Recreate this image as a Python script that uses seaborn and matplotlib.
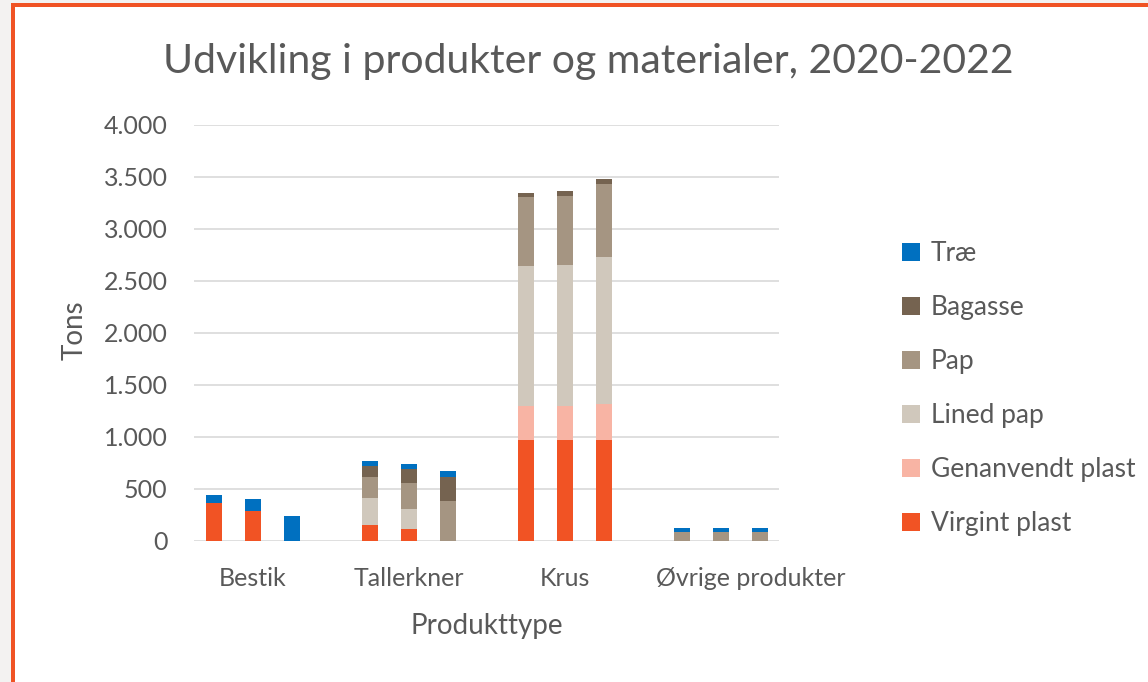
import numpy as np
import pandas as pd
import matplotlib
matplotlib.use("Agg")
import matplotlib.pyplot as plt
from matplotlib.patches import Patch, Rectangle
from matplotlib.ticker import FuncFormatter
from matplotlib.transforms import ScaledTranslation
import seaborn as sns

# data (tons)
produkter = ["Bestik", "Tallerkner", "Krus", "Øvrige produkter"]
aar = ["2020", "2021", "2022"]
materialer = ["Virgint plast", "Genanvendt plast", "Lined pap", "Pap", "Bagasse", "Træ"]
farver = ["#f15324", "#f8b4a4", "#d0c8bc", "#a59582", "#756350", "#0070c0"]

# one list per material, order: produkt x aar
virgint_plast = [368, 285, 0, 155, 113, 0, 968, 968, 968, 0, 0, 0]
genanvendt_plast = [0, 0, 0, 0, 0, 0, 331, 331, 351, 0, 0, 0]
lined_pap = [0, 0, 0, 254, 193, 0, 1341, 1357, 1410, 0, 0, 0]
pap = [0, 0, 0, 210, 252, 380, 664, 660, 701, 90, 90, 90]
bagasse = [0, 0, 0, 103, 132, 239, 41, 48, 48, 0, 0, 0]
trae = [77, 116, 237, 45, 48, 58, 0, 0, 0, 35, 35, 35]

værdier = [virgint_plast, genanvendt_plast, lined_pap, pap, bagasse, trae]

rows = []
for m, vals in zip(materialer, værdier):
    i = 0
    for p in produkter:
        for a in aar:
            rows.append({"produkt": p, "aar": a, "materiale": m, "tons": vals[i]})
            i += 1
df = pd.DataFrame(rows)
df["materiale"] = pd.Categorical(df["materiale"], materialer, ordered=True)
df = df.sort_values(["produkt", "aar", "materiale"])
df["cum"] = df.groupby(["produkt", "aar"], observed=True)["tons"].cumsum()

plt.rcParams["font.family"] = ["Lato", "DejaVu Sans"]
grey = "#595959"

fig = plt.figure(figsize=(11.48, 6.82), dpi=100)
fig.patch.set_facecolor("white")
# frame of the screenshot
fig.patches.append(Rectangle((0, 0), 11 / 1148, 1, transform=fig.transFigure,
                             facecolor="#f3f2f1", edgecolor="none", zorder=0))
fig.patches.append(Rectangle((0, 1 - 3 / 682), 1, 3 / 682, transform=fig.transFigure,
                             facecolor="#f3f2f1", edgecolor="none", zorder=0))
fig.patches.append(Rectangle((11 / 1148, 0), 4 / 1148, 1 - 3 / 682, transform=fig.transFigure,
                             facecolor="#f05324", edgecolor="none", zorder=1))
fig.patches.append(Rectangle((11 / 1148, 1 - 7 / 682), 1, 4 / 682, transform=fig.transFigure,
                             facecolor="#f05324", edgecolor="none", zorder=1))

ax = fig.add_axes([194 / 1148, 1 - 541 / 682, 585 / 1148, 416 / 682])

# stacked bars: draw cumulative totals from the top layer down
for m, c in reversed(list(zip(materialer, farver))):
    sub = df[df["materiale"] == m]
    sns.barplot(data=sub, x="produkt", y="cum", hue="aar", order=produkter,
                hue_order=aar, palette=[c] * 3, saturation=1, width=0.75, gap=0.6,
                errorbar=None, legend=False, linewidth=0, ax=ax, zorder=3)

ax.set_ylim(0, 4000)
ax.set_yticks(np.arange(0, 4001, 500))
ax.yaxis.set_major_formatter(FuncFormatter(lambda v, _: f"{int(v):,}".replace(",", ".")))
ax.set_xlim(-0.378, 3.372)
ax.grid(axis="y", color="#d9d9d9", linewidth=1.2, zorder=0)
ax.grid(axis="x", visible=False)
ax.set_axisbelow(True)
for s in ax.spines.values():
    s.set_visible(False)
ax.tick_params(axis="both", length=0, labelsize=18, labelcolor=grey)
ax.tick_params(axis="x", pad=19)
ax.tick_params(axis="y", pad=19)

# the long last label sits a bit to the right in the original
lbl = ax.get_xticklabels()[-1]
lbl.set_transform(lbl.get_transform() + ScaledTranslation(0.3, 0, fig.dpi_scale_trans))

ax.set_xlabel("Produkttype", fontsize=20, color=grey)
ax.xaxis.set_label_coords(0.5, -0.172)
ax.set_ylabel("Tons", fontsize=20, color=grey)
ax.yaxis.set_label_coords(-0.181, 0.507)

fig.text(588 / 1148, 1 - 61 / 682, "Udvikling i produkter og materialer, 2020-2022",
         ha="center", va="center", fontsize=29.5, color=grey)

handles = [Patch(facecolor=c, edgecolor="none", label=m)
           for m, c in reversed(list(zip(materialer, farver)))]
fig.legend(handles=handles, loc="upper left", bbox_to_anchor=(902 / 1148, 1 - 241 / 682),
           frameon=False, fontsize=19, labelcolor=grey, handlelength=0.7,
           handleheight=0.7, handletextpad=0.4, labelspacing=1.1,
           borderpad=0, borderaxespad=0)

fig.savefig("out.png", dpi=100)
